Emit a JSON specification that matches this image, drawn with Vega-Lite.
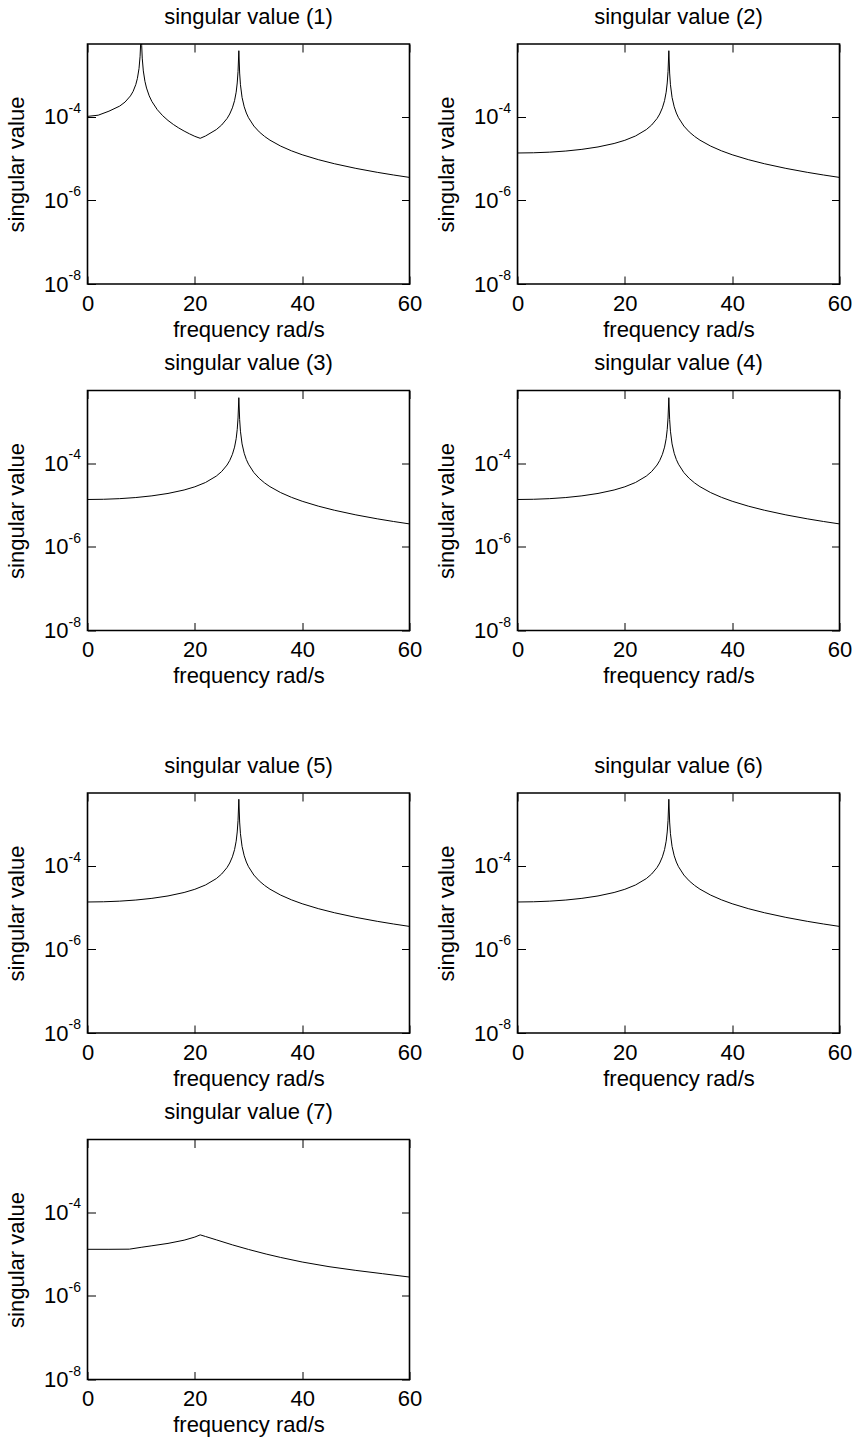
{
  "$schema": "https://vega.github.io/schema/vega-lite/v6.json",
  "background": "white",
  "padding": {"left": 4.5, "top": 4, "right": 5, "bottom": 0},
  "spacing": 65,
  "bounds": "full",
  "datasets": {
    "ticks": [{"t": 1e-8, "e": "-8"}, {"t": 1e-6, "e": "-6"}, {"t": 1e-4, "e": "-4"}],
    "sv": [
      {"p":1,"f":0,"v":1.02e-4},{"p":1,"f":2,"v":1.09e-4},{"p":1,"f":4,"v":1.36e-4},{"p":1,"f":6,"v":1.8e-4},{"p":1,"f":7,"v":2.25e-4},{"p":1,"f":8,"v":3.15e-4},{"p":1,"f":8.5,"v":4.05e-4},{"p":1,"f":9,"v":5.9e-4},{"p":1,"f":9.3,"v":8.3e-4},{"p":1,"f":9.6,"v":1.43e-3},{"p":1,"f":9.8,"v":2.8e-3},{"p":1,"f":9.9,"v":5.5e-3},{"p":1,"f":10,"v":0.05},{"p":1,"f":10.1,"v":5.07e-3},{"p":1,"f":10.2,"v":2.525e-3},{"p":1,"f":10.4,"v":1.25e-3},{"p":1,"f":10.7,"v":7.04e-4},{"p":1,"f":11,"v":4.857e-4},{"p":1,"f":11.5,"v":3.163e-4},{"p":1,"f":12,"v":2.318e-4},{"p":1,"f":13,"v":1.478e-4},{"p":1,"f":14,"v":1.063e-4},{"p":1,"f":15,"v":8.16e-5},{"p":1,"f":16,"v":6.538e-5},{"p":1,"f":17,"v":5.397e-5},{"p":1,"f":18,"v":4.554e-5},{"p":1,"f":19,"v":3.908e-5},{"p":1,"f":20,"v":3.4e-5},{"p":1,"f":21,"v":3.053e-5},{"p":1,"f":22,"v":3.475e-5},{"p":1,"f":24,"v":4.933e-5},{"p":1,"f":25,"v":6.353e-5},{"p":1,"f":26,"v":9.07e-5},{"p":1,"f":26.5,"v":1.163e-4},{"p":1,"f":27,"v":1.633e-4},{"p":1,"f":27.4,"v":2.432e-4},{"p":1,"f":27.7,"v":3.869e-4},{"p":1,"f":27.9,"v":6.427e-4},{"p":1,"f":28.05,"v":1.212e-3},{"p":1,"f":28.2,"v":3.8e-3},{"p":1,"f":28.35,"v":1.11e-3},{"p":1,"f":28.5,"v":5.844e-4},{"p":1,"f":28.8,"v":2.906e-4},{"p":1,"f":29.2,"v":1.732e-4},{"p":1,"f":29.6,"v":1.228e-4},{"p":1,"f":30,"v":9.489e-5},{"p":1,"f":31,"v":5.997e-5},{"p":1,"f":32,"v":4.345e-5},{"p":1,"f":33,"v":3.384e-5},{"p":1,"f":34,"v":2.755e-5},{"p":1,"f":36,"v":1.985e-5},{"p":1,"f":38,"v":1.532e-5},{"p":1,"f":40,"v":1.235e-5},{"p":1,"f":43,"v":9.433e-6},{"p":1,"f":46,"v":7.526e-6},{"p":1,"f":50,"v":5.831e-6},{"p":1,"f":54,"v":4.687e-6},{"p":1,"f":57,"v":4.051e-6},{"p":1,"f":60,"v":3.544e-6},

      {"p":2,"f":0,"v":1.36e-5},{"p":2,"f":3,"v":1.376e-5},{"p":2,"f":6,"v":1.424e-5},{"p":2,"f":9,"v":1.514e-5},{"p":2,"f":12,"v":1.661e-5},{"p":2,"f":15,"v":1.897e-5},{"p":2,"f":18,"v":2.295e-5},{"p":2,"f":20,"v":2.736e-5},{"p":2,"f":22,"v":3.475e-5},{"p":2,"f":24,"v":4.933e-5},{"p":2,"f":25,"v":6.353e-5},{"p":2,"f":26,"v":9.07e-5},{"p":2,"f":26.5,"v":1.163e-4},{"p":2,"f":27,"v":1.633e-4},{"p":2,"f":27.4,"v":2.432e-4},{"p":2,"f":27.7,"v":3.869e-4},{"p":2,"f":27.9,"v":6.427e-4},{"p":2,"f":28.05,"v":1.212e-3},{"p":2,"f":28.2,"v":3.8e-3},{"p":2,"f":28.35,"v":1.11e-3},{"p":2,"f":28.5,"v":5.844e-4},{"p":2,"f":28.8,"v":2.906e-4},{"p":2,"f":29.2,"v":1.732e-4},{"p":2,"f":29.6,"v":1.228e-4},{"p":2,"f":30,"v":9.489e-5},{"p":2,"f":31,"v":5.997e-5},{"p":2,"f":32,"v":4.345e-5},{"p":2,"f":33,"v":3.384e-5},{"p":2,"f":34,"v":2.755e-5},{"p":2,"f":36,"v":1.985e-5},{"p":2,"f":38,"v":1.532e-5},{"p":2,"f":40,"v":1.235e-5},{"p":2,"f":43,"v":9.433e-6},{"p":2,"f":46,"v":7.526e-6},{"p":2,"f":50,"v":5.831e-6},{"p":2,"f":54,"v":4.687e-6},{"p":2,"f":57,"v":4.051e-6},{"p":2,"f":60,"v":3.544e-6},

      {"p":3,"f":0,"v":1.36e-5},{"p":3,"f":3,"v":1.376e-5},{"p":3,"f":6,"v":1.424e-5},{"p":3,"f":9,"v":1.514e-5},{"p":3,"f":12,"v":1.661e-5},{"p":3,"f":15,"v":1.897e-5},{"p":3,"f":18,"v":2.295e-5},{"p":3,"f":20,"v":2.736e-5},{"p":3,"f":22,"v":3.475e-5},{"p":3,"f":24,"v":4.933e-5},{"p":3,"f":25,"v":6.353e-5},{"p":3,"f":26,"v":9.07e-5},{"p":3,"f":26.5,"v":1.163e-4},{"p":3,"f":27,"v":1.633e-4},{"p":3,"f":27.4,"v":2.432e-4},{"p":3,"f":27.7,"v":3.869e-4},{"p":3,"f":27.9,"v":6.427e-4},{"p":3,"f":28.05,"v":1.212e-3},{"p":3,"f":28.2,"v":3.7e-3},{"p":3,"f":28.35,"v":1.11e-3},{"p":3,"f":28.5,"v":5.844e-4},{"p":3,"f":28.8,"v":2.906e-4},{"p":3,"f":29.2,"v":1.732e-4},{"p":3,"f":29.6,"v":1.228e-4},{"p":3,"f":30,"v":9.489e-5},{"p":3,"f":31,"v":5.997e-5},{"p":3,"f":32,"v":4.345e-5},{"p":3,"f":33,"v":3.384e-5},{"p":3,"f":34,"v":2.755e-5},{"p":3,"f":36,"v":1.985e-5},{"p":3,"f":38,"v":1.532e-5},{"p":3,"f":40,"v":1.235e-5},{"p":3,"f":43,"v":9.433e-6},{"p":3,"f":46,"v":7.526e-6},{"p":3,"f":50,"v":5.831e-6},{"p":3,"f":54,"v":4.687e-6},{"p":3,"f":57,"v":4.051e-6},{"p":3,"f":60,"v":3.544e-6},

      {"p":4,"f":0,"v":1.36e-5},{"p":4,"f":3,"v":1.376e-5},{"p":4,"f":6,"v":1.424e-5},{"p":4,"f":9,"v":1.514e-5},{"p":4,"f":12,"v":1.661e-5},{"p":4,"f":15,"v":1.897e-5},{"p":4,"f":18,"v":2.295e-5},{"p":4,"f":20,"v":2.736e-5},{"p":4,"f":22,"v":3.475e-5},{"p":4,"f":24,"v":4.933e-5},{"p":4,"f":25,"v":6.353e-5},{"p":4,"f":26,"v":9.07e-5},{"p":4,"f":26.5,"v":1.163e-4},{"p":4,"f":27,"v":1.633e-4},{"p":4,"f":27.4,"v":2.432e-4},{"p":4,"f":27.7,"v":3.869e-4},{"p":4,"f":27.9,"v":6.427e-4},{"p":4,"f":28.05,"v":1.212e-3},{"p":4,"f":28.2,"v":3.7e-3},{"p":4,"f":28.35,"v":1.11e-3},{"p":4,"f":28.5,"v":5.844e-4},{"p":4,"f":28.8,"v":2.906e-4},{"p":4,"f":29.2,"v":1.732e-4},{"p":4,"f":29.6,"v":1.228e-4},{"p":4,"f":30,"v":9.489e-5},{"p":4,"f":31,"v":5.997e-5},{"p":4,"f":32,"v":4.345e-5},{"p":4,"f":33,"v":3.384e-5},{"p":4,"f":34,"v":2.755e-5},{"p":4,"f":36,"v":1.985e-5},{"p":4,"f":38,"v":1.532e-5},{"p":4,"f":40,"v":1.235e-5},{"p":4,"f":43,"v":9.433e-6},{"p":4,"f":46,"v":7.526e-6},{"p":4,"f":50,"v":5.831e-6},{"p":4,"f":54,"v":4.687e-6},{"p":4,"f":57,"v":4.051e-6},{"p":4,"f":60,"v":3.544e-6},

      {"p":5,"f":0,"v":1.36e-5},{"p":5,"f":3,"v":1.376e-5},{"p":5,"f":6,"v":1.424e-5},{"p":5,"f":9,"v":1.514e-5},{"p":5,"f":12,"v":1.661e-5},{"p":5,"f":15,"v":1.897e-5},{"p":5,"f":18,"v":2.295e-5},{"p":5,"f":20,"v":2.736e-5},{"p":5,"f":22,"v":3.475e-5},{"p":5,"f":24,"v":4.933e-5},{"p":5,"f":25,"v":6.353e-5},{"p":5,"f":26,"v":9.07e-5},{"p":5,"f":26.5,"v":1.163e-4},{"p":5,"f":27,"v":1.633e-4},{"p":5,"f":27.4,"v":2.432e-4},{"p":5,"f":27.7,"v":3.869e-4},{"p":5,"f":27.9,"v":6.427e-4},{"p":5,"f":28.05,"v":1.212e-3},{"p":5,"f":28.2,"v":3.9e-3},{"p":5,"f":28.35,"v":1.11e-3},{"p":5,"f":28.5,"v":5.844e-4},{"p":5,"f":28.8,"v":2.906e-4},{"p":5,"f":29.2,"v":1.732e-4},{"p":5,"f":29.6,"v":1.228e-4},{"p":5,"f":30,"v":9.489e-5},{"p":5,"f":31,"v":5.997e-5},{"p":5,"f":32,"v":4.345e-5},{"p":5,"f":33,"v":3.384e-5},{"p":5,"f":34,"v":2.755e-5},{"p":5,"f":36,"v":1.985e-5},{"p":5,"f":38,"v":1.532e-5},{"p":5,"f":40,"v":1.235e-5},{"p":5,"f":43,"v":9.433e-6},{"p":5,"f":46,"v":7.526e-6},{"p":5,"f":50,"v":5.831e-6},{"p":5,"f":54,"v":4.687e-6},{"p":5,"f":57,"v":4.051e-6},{"p":5,"f":60,"v":3.544e-6},

      {"p":6,"f":0,"v":1.36e-5},{"p":6,"f":3,"v":1.376e-5},{"p":6,"f":6,"v":1.424e-5},{"p":6,"f":9,"v":1.514e-5},{"p":6,"f":12,"v":1.661e-5},{"p":6,"f":15,"v":1.897e-5},{"p":6,"f":18,"v":2.295e-5},{"p":6,"f":20,"v":2.736e-5},{"p":6,"f":22,"v":3.475e-5},{"p":6,"f":24,"v":4.933e-5},{"p":6,"f":25,"v":6.353e-5},{"p":6,"f":26,"v":9.07e-5},{"p":6,"f":26.5,"v":1.163e-4},{"p":6,"f":27,"v":1.633e-4},{"p":6,"f":27.4,"v":2.432e-4},{"p":6,"f":27.7,"v":3.869e-4},{"p":6,"f":27.9,"v":6.427e-4},{"p":6,"f":28.05,"v":1.212e-3},{"p":6,"f":28.2,"v":3.9e-3},{"p":6,"f":28.35,"v":1.11e-3},{"p":6,"f":28.5,"v":5.844e-4},{"p":6,"f":28.8,"v":2.906e-4},{"p":6,"f":29.2,"v":1.732e-4},{"p":6,"f":29.6,"v":1.228e-4},{"p":6,"f":30,"v":9.489e-5},{"p":6,"f":31,"v":5.997e-5},{"p":6,"f":32,"v":4.345e-5},{"p":6,"f":33,"v":3.384e-5},{"p":6,"f":34,"v":2.755e-5},{"p":6,"f":36,"v":1.985e-5},{"p":6,"f":38,"v":1.532e-5},{"p":6,"f":40,"v":1.235e-5},{"p":6,"f":43,"v":9.433e-6},{"p":6,"f":46,"v":7.526e-6},{"p":6,"f":50,"v":5.831e-6},{"p":6,"f":54,"v":4.687e-6},{"p":6,"f":57,"v":4.051e-6},{"p":6,"f":60,"v":3.544e-6},

      {"p":7,"f":0,"v":1.3e-5},{"p":7,"f":4,"v":1.3e-5},{"p":7,"f":7.8,"v":1.31e-5},{"p":7,"f":10,"v":1.45e-5},{"p":7,"f":12,"v":1.58e-5},{"p":7,"f":15,"v":1.8e-5},{"p":7,"f":18,"v":2.15e-5},{"p":7,"f":20,"v":2.55e-5},{"p":7,"f":21,"v":2.88e-5},{"p":7,"f":22,"v":2.63e-5},{"p":7,"f":24,"v":2.19e-5},{"p":7,"f":27,"v":1.66e-5},{"p":7,"f":30,"v":1.29e-5},{"p":7,"f":33.3,"v":1.0e-5},{"p":7,"f":36,"v":8.3e-6},{"p":7,"f":40,"v":6.46e-6},{"p":7,"f":45,"v":5.0e-6},{"p":7,"f":50,"v":4.07e-6},{"p":7,"f":55,"v":3.39e-6},{"p":7,"f":60,"v":2.82e-6}
    ]
  },
  "vconcat": [
    {
      "columns": 2,
      "bounds": "flush",
      "spacing": {"row": 106.5, "column": 108},
      "concat": [
        {"title": "singular value (1)", "width": 322, "height": 240, "resolve": {"axis": {"x": "independent", "y": "independent"}}, "layer": [
          {"data": {"name": "sv"}, "transform": [{"filter": "datum.p == 1"}], "mark": {"type": "line", "clip": true, "color": "black", "strokeWidth": 1},
           "encoding": {"x": {"field": "f", "type": "quantitative", "scale": {"domain": [0, 60], "nice": false, "zero": false}, "axis": {"orient": "bottom", "values": [0, 20, 40, 60], "title": "frequency rad/s"}},
                        "y": {"field": "v", "type": "quantitative", "scale": {"type": "log", "domain": [1e-8, 0.0055], "nice": false}, "axis": {"orient": "left", "values": [1e-8, 1e-6, 1e-4], "labelExpr": "'10'", "title": "singular value"}}}},
          {"data": {"name": "ticks"}, "mark": {"type": "text", "align": "left", "baseline": "alphabetic", "dx": -19, "dy": -4, "fontSize": 14, "color": "black"},
           "encoding": {"x": {"datum": 0, "type": "quantitative", "scale": {"domain": [0, 60], "nice": false, "zero": false}, "axis": {"orient": "top", "values": [0, 20, 40, 60], "labels": false, "title": null}},
                        "y": {"field": "t", "type": "quantitative", "scale": {"type": "log", "domain": [1e-8, 0.0055], "nice": false}, "axis": {"orient": "right", "values": [1e-8, 1e-6, 1e-4], "labels": false, "title": null}},
                        "text": {"field": "e"}}}
        ]},
        {"title": "singular value (2)", "width": 322, "height": 240, "resolve": {"axis": {"x": "independent", "y": "independent"}}, "layer": [
          {"data": {"name": "sv"}, "transform": [{"filter": "datum.p == 2"}], "mark": {"type": "line", "clip": true, "color": "black", "strokeWidth": 1},
           "encoding": {"x": {"field": "f", "type": "quantitative", "scale": {"domain": [0, 60], "nice": false, "zero": false}, "axis": {"orient": "bottom", "values": [0, 20, 40, 60], "title": "frequency rad/s"}},
                        "y": {"field": "v", "type": "quantitative", "scale": {"type": "log", "domain": [1e-8, 0.0055], "nice": false}, "axis": {"orient": "left", "values": [1e-8, 1e-6, 1e-4], "labelExpr": "'10'", "title": "singular value"}}}},
          {"data": {"name": "ticks"}, "mark": {"type": "text", "align": "left", "baseline": "alphabetic", "dx": -19, "dy": -4, "fontSize": 14, "color": "black"},
           "encoding": {"x": {"datum": 0, "type": "quantitative", "scale": {"domain": [0, 60], "nice": false, "zero": false}, "axis": {"orient": "top", "values": [0, 20, 40, 60], "labels": false, "title": null}},
                        "y": {"field": "t", "type": "quantitative", "scale": {"type": "log", "domain": [1e-8, 0.0055], "nice": false}, "axis": {"orient": "right", "values": [1e-8, 1e-6, 1e-4], "labels": false, "title": null}},
                        "text": {"field": "e"}}}
        ]},
        {"title": "singular value (3)", "width": 322, "height": 240, "resolve": {"axis": {"x": "independent", "y": "independent"}}, "layer": [
          {"data": {"name": "sv"}, "transform": [{"filter": "datum.p == 3"}], "mark": {"type": "line", "clip": true, "color": "black", "strokeWidth": 1},
           "encoding": {"x": {"field": "f", "type": "quantitative", "scale": {"domain": [0, 60], "nice": false, "zero": false}, "axis": {"orient": "bottom", "values": [0, 20, 40, 60], "title": "frequency rad/s"}},
                        "y": {"field": "v", "type": "quantitative", "scale": {"type": "log", "domain": [1e-8, 0.0055], "nice": false}, "axis": {"orient": "left", "values": [1e-8, 1e-6, 1e-4], "labelExpr": "'10'", "title": "singular value"}}}},
          {"data": {"name": "ticks"}, "mark": {"type": "text", "align": "left", "baseline": "alphabetic", "dx": -19, "dy": -4, "fontSize": 14, "color": "black"},
           "encoding": {"x": {"datum": 0, "type": "quantitative", "scale": {"domain": [0, 60], "nice": false, "zero": false}, "axis": {"orient": "top", "values": [0, 20, 40, 60], "labels": false, "title": null}},
                        "y": {"field": "t", "type": "quantitative", "scale": {"type": "log", "domain": [1e-8, 0.0055], "nice": false}, "axis": {"orient": "right", "values": [1e-8, 1e-6, 1e-4], "labels": false, "title": null}},
                        "text": {"field": "e"}}}
        ]},
        {"title": "singular value (4)", "width": 322, "height": 240, "resolve": {"axis": {"x": "independent", "y": "independent"}}, "layer": [
          {"data": {"name": "sv"}, "transform": [{"filter": "datum.p == 4"}], "mark": {"type": "line", "clip": true, "color": "black", "strokeWidth": 1},
           "encoding": {"x": {"field": "f", "type": "quantitative", "scale": {"domain": [0, 60], "nice": false, "zero": false}, "axis": {"orient": "bottom", "values": [0, 20, 40, 60], "title": "frequency rad/s"}},
                        "y": {"field": "v", "type": "quantitative", "scale": {"type": "log", "domain": [1e-8, 0.0055], "nice": false}, "axis": {"orient": "left", "values": [1e-8, 1e-6, 1e-4], "labelExpr": "'10'", "title": "singular value"}}}},
          {"data": {"name": "ticks"}, "mark": {"type": "text", "align": "left", "baseline": "alphabetic", "dx": -19, "dy": -4, "fontSize": 14, "color": "black"},
           "encoding": {"x": {"datum": 0, "type": "quantitative", "scale": {"domain": [0, 60], "nice": false, "zero": false}, "axis": {"orient": "top", "values": [0, 20, 40, 60], "labels": false, "title": null}},
                        "y": {"field": "t", "type": "quantitative", "scale": {"type": "log", "domain": [1e-8, 0.0055], "nice": false}, "axis": {"orient": "right", "values": [1e-8, 1e-6, 1e-4], "labels": false, "title": null}},
                        "text": {"field": "e"}}}
        ]}
      ]
    },
    {
      "columns": 2,
      "bounds": "flush",
      "spacing": {"row": 106.5, "column": 108},
      "concat": [
        {"title": "singular value (5)", "width": 322, "height": 240, "resolve": {"axis": {"x": "independent", "y": "independent"}}, "layer": [
          {"data": {"name": "sv"}, "transform": [{"filter": "datum.p == 5"}], "mark": {"type": "line", "clip": true, "color": "black", "strokeWidth": 1},
           "encoding": {"x": {"field": "f", "type": "quantitative", "scale": {"domain": [0, 60], "nice": false, "zero": false}, "axis": {"orient": "bottom", "values": [0, 20, 40, 60], "title": "frequency rad/s"}},
                        "y": {"field": "v", "type": "quantitative", "scale": {"type": "log", "domain": [1e-8, 0.0055], "nice": false}, "axis": {"orient": "left", "values": [1e-8, 1e-6, 1e-4], "labelExpr": "'10'", "title": "singular value"}}}},
          {"data": {"name": "ticks"}, "mark": {"type": "text", "align": "left", "baseline": "alphabetic", "dx": -19, "dy": -4, "fontSize": 14, "color": "black"},
           "encoding": {"x": {"datum": 0, "type": "quantitative", "scale": {"domain": [0, 60], "nice": false, "zero": false}, "axis": {"orient": "top", "values": [0, 20, 40, 60], "labels": false, "title": null}},
                        "y": {"field": "t", "type": "quantitative", "scale": {"type": "log", "domain": [1e-8, 0.0055], "nice": false}, "axis": {"orient": "right", "values": [1e-8, 1e-6, 1e-4], "labels": false, "title": null}},
                        "text": {"field": "e"}}}
        ]},
        {"title": "singular value (6)", "width": 322, "height": 240, "resolve": {"axis": {"x": "independent", "y": "independent"}}, "layer": [
          {"data": {"name": "sv"}, "transform": [{"filter": "datum.p == 6"}], "mark": {"type": "line", "clip": true, "color": "black", "strokeWidth": 1},
           "encoding": {"x": {"field": "f", "type": "quantitative", "scale": {"domain": [0, 60], "nice": false, "zero": false}, "axis": {"orient": "bottom", "values": [0, 20, 40, 60], "title": "frequency rad/s"}},
                        "y": {"field": "v", "type": "quantitative", "scale": {"type": "log", "domain": [1e-8, 0.0055], "nice": false}, "axis": {"orient": "left", "values": [1e-8, 1e-6, 1e-4], "labelExpr": "'10'", "title": "singular value"}}}},
          {"data": {"name": "ticks"}, "mark": {"type": "text", "align": "left", "baseline": "alphabetic", "dx": -19, "dy": -4, "fontSize": 14, "color": "black"},
           "encoding": {"x": {"datum": 0, "type": "quantitative", "scale": {"domain": [0, 60], "nice": false, "zero": false}, "axis": {"orient": "top", "values": [0, 20, 40, 60], "labels": false, "title": null}},
                        "y": {"field": "t", "type": "quantitative", "scale": {"type": "log", "domain": [1e-8, 0.0055], "nice": false}, "axis": {"orient": "right", "values": [1e-8, 1e-6, 1e-4], "labels": false, "title": null}},
                        "text": {"field": "e"}}}
        ]},
        {"title": "singular value (7)", "width": 322, "height": 240, "resolve": {"axis": {"x": "independent", "y": "independent"}}, "layer": [
          {"data": {"name": "sv"}, "transform": [{"filter": "datum.p == 7"}], "mark": {"type": "line", "clip": true, "color": "black", "strokeWidth": 1},
           "encoding": {"x": {"field": "f", "type": "quantitative", "scale": {"domain": [0, 60], "nice": false, "zero": false}, "axis": {"orient": "bottom", "values": [0, 20, 40, 60], "title": "frequency rad/s"}},
                        "y": {"field": "v", "type": "quantitative", "scale": {"type": "log", "domain": [1e-8, 0.0055], "nice": false}, "axis": {"orient": "left", "values": [1e-8, 1e-6, 1e-4], "labelExpr": "'10'", "title": "singular value"}}}},
          {"data": {"name": "ticks"}, "mark": {"type": "text", "align": "left", "baseline": "alphabetic", "dx": -19, "dy": -4, "fontSize": 14, "color": "black"},
           "encoding": {"x": {"datum": 0, "type": "quantitative", "scale": {"domain": [0, 60], "nice": false, "zero": false}, "axis": {"orient": "top", "values": [0, 20, 40, 60], "labels": false, "title": null}},
                        "y": {"field": "t", "type": "quantitative", "scale": {"type": "log", "domain": [1e-8, 0.0055], "nice": false}, "axis": {"orient": "right", "values": [1e-8, 1e-6, 1e-4], "labels": false, "title": null}},
                        "text": {"field": "e"}}}
        ]}
      ]
    }
  ],
  "config": {
    "font": "Liberation Sans",
    "view": {"stroke": "black", "strokeWidth": 1.6},
    "axis": {
      "grid": false,
      "domain": false,
      "labelFont": "Liberation Sans",
      "labelFontSize": 22,
      "labelColor": "black",
      "titleFont": "Liberation Sans",
      "titleFontSize": 22,
      "titleFontWeight": "normal",
      "titleColor": "black",
      "tickColor": "black",
      "tickWidth": 1,
      "tickSize": -8,
      "labelFlush": false,
      "labelOverlap": false,
      "labelBound": false
    },
    "axisX": {"labelPadding": 17, "titlePadding": 5},
    "axisY": {"labelPadding": 27.5, "titlePadding": 15},
    "title": {"font": "Liberation Sans", "fontSize": 22, "fontWeight": "normal", "color": "black", "anchor": "middle", "frame": "group", "offset": 15, "baseline": "alphabetic"},
    "text": {"font": "Liberation Sans", "color": "black"}
  }
}
